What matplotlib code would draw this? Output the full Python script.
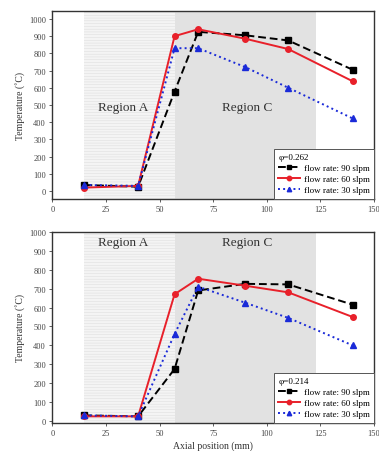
import matplotlib.pyplot as plt

plt.rcParams['font.family'] = ['Liberation Serif', 'DejaVu Serif']
plt.rcParams['hatch.linewidth'] = 0.3

# axial positions (mm)
pos = [15, 40, 57, 68, 90, 110, 140]

# phi = 0.262
t262_90 = [35, 25, 578, 925, 905, 875, 705]
t262_60 = [20, 30, 900, 940, 885, 825, 638]
t262_30 = [35, 30, 830, 830, 720, 600, 422]

# phi = 0.214
t214_90 = [30, 25, 275, 690, 725, 722, 615]
t214_60 = [25, 25, 670, 752, 715, 680, 550]
t214_30 = [30, 25, 460, 710, 625, 545, 400]

labels = ['flow rate: 90 slpm', 'flow rate: 60 slpm', 'flow rate: 30 slpm']

fig = plt.figure(figsize=(3.79, 4.52), dpi=100)
ax1 = fig.add_axes([0.138, 0.558, 0.849, 0.415])
ax2 = fig.add_axes([0.138, 0.062, 0.849, 0.423])


def panel(ax, s90, s60, s30, phi, ylim, text_y):
    ax.axvspan(15, 57, facecolor='#f4f4f4', edgecolor='#d8d8d8', hatch='------', lw=0, zorder=0)
    ax.axvspan(57, 123, facecolor='#e2e2e2', lw=0, zorder=0)
    ax.plot(pos, s90, '--', color='black', marker='s', ms=4, lw=1.4, dashes=(4, 2), label=labels[0])
    ax.plot(pos, s60, '-', color='#e8202a', marker='o', ms=4, lw=1.4, label=labels[1])
    ax.plot(pos, s30, ':', color='#1a2ad8', marker='^', ms=4, lw=1.4, label=labels[2])
    ax.text(33, text_y, 'Region A', fontsize=9.5, ha='center', va='center', color='#333333')
    ax.text(91, text_y, 'Region C', fontsize=9.5, ha='center', va='center', color='#333333')
    ax.set_xlim(0, 150)
    ax.set_ylim(*ylim)
    ax.set_xticks([0, 25, 50, 75, 100, 125, 150])
    ax.set_yticks(range(0, 1001, 100))
    ax.tick_params(labelsize=6, length=2.5, width=0.6, pad=2, colors='#444444')
    ax.set_ylabel('Temperature (˚C)', fontsize=7, color='#333333', labelpad=3)
    for sp in ax.spines.values():
        sp.set_linewidth(1.0)
        sp.set_color('#333333')
    leg = ax.legend(loc='lower right', title=phi, fontsize=6.5, title_fontsize=6.5,
                    frameon=True, fancybox=False, edgecolor='#555555', framealpha=1,
                    borderpad=0.5, labelspacing=0.3, handlelength=2.4, handletextpad=0.4,
                    borderaxespad=0.0, markerscale=0.8)
    leg._legend_box.align = 'left'
    leg.get_frame().set_linewidth(0.7)


panel(ax1, t262_90, t262_60, t262_30, 'φ=0.262', (-45, 1045), 490)
panel(ax2, t214_90, t214_60, t214_30, 'φ=0.214', (-10, 1000), 945)
ax2.set_xlabel('Axial position (mm)', fontsize=7, color='#333333', labelpad=2)

plt.savefig('out.png', dpi=100)
